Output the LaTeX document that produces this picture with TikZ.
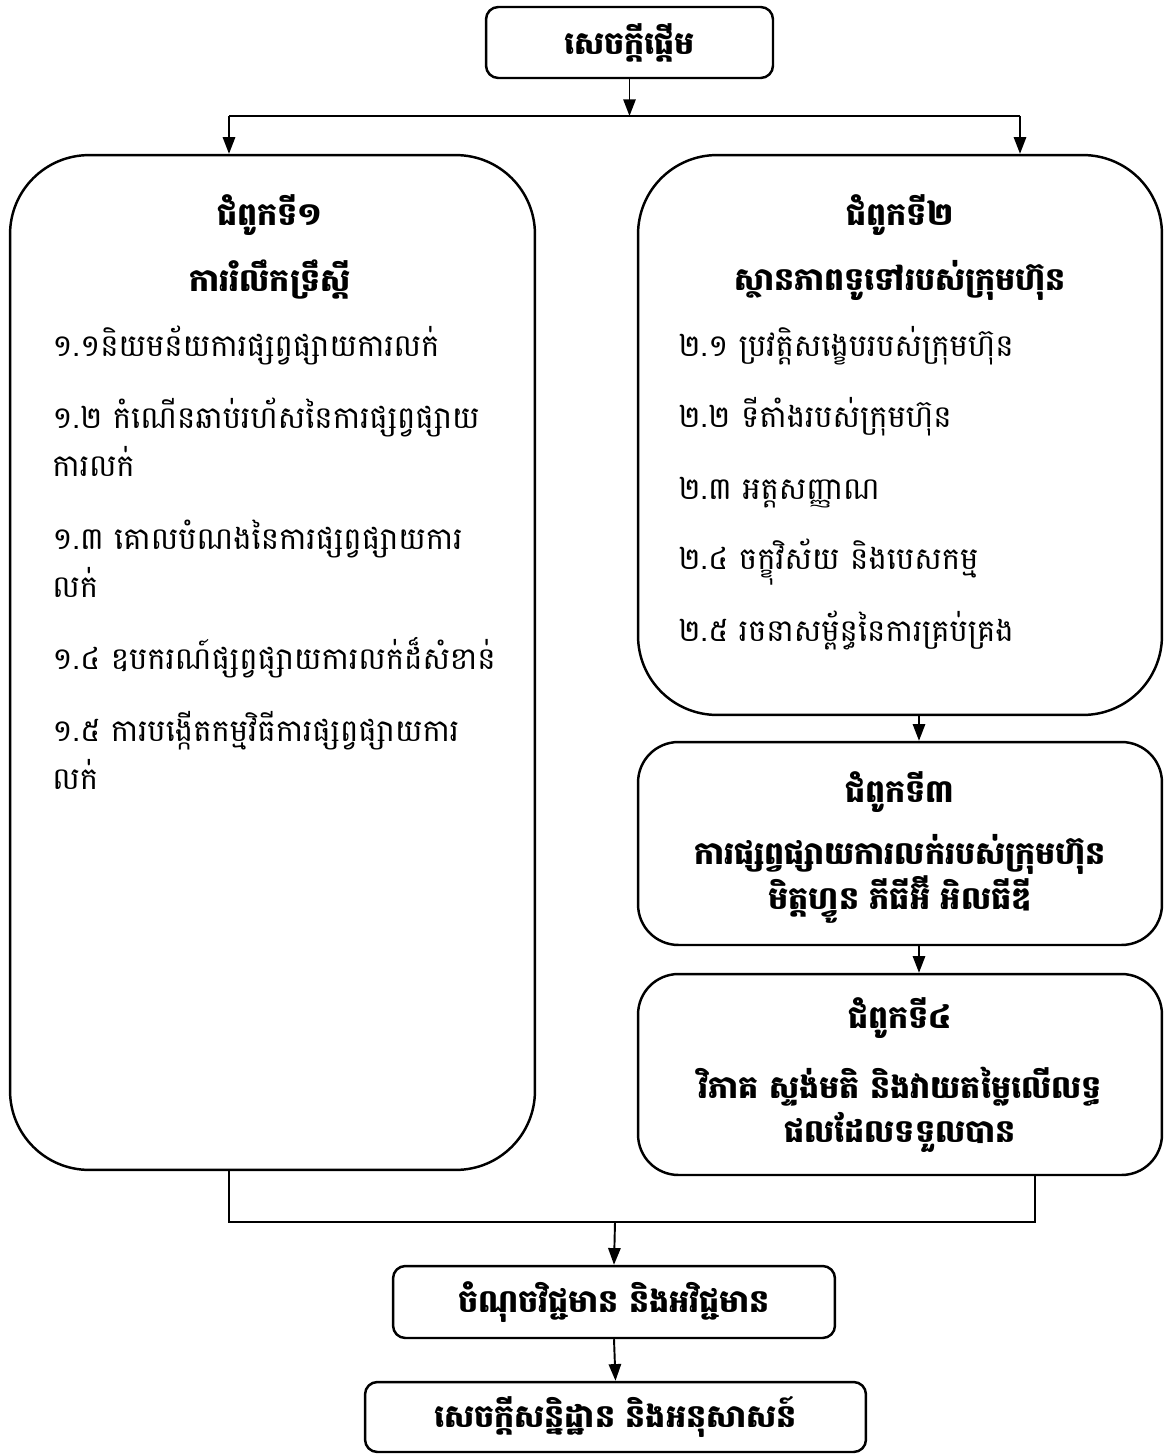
\documentclass[tikz,border=0pt]{standalone}
\usepackage{fontspec}
\newfontfamily\khmer[Script=Khmer]{Battambang}
\usetikzlibrary{arrows.meta}

\begin{document}
\begin{tikzpicture}[x=0.02cm,y=-0.02cm,
  box/.style={draw,line width=1.4pt,rounded corners=7pt,inner sep=0pt},
  bigbox/.style={draw,line width=1.4pt,rounded corners=45pt,inner sep=0pt,minimum width=10.5cm},
  midbox/.style={draw,line width=1.4pt,rounded corners=23pt,inner sep=0pt,minimum width=10.5cm},
  head/.style={font=\khmer\bfseries\fontsize{18}{22}\selectfont,align=center},
  item/.style={font=\khmer\fontsize{17.5}{26.8}\selectfont,align=left,anchor=base west,inner sep=0pt},
  arr/.style={-{Triangle[length=9.5pt,width=7pt]},line width=1.1pt},
  conn/.style={line width=1.1pt}]
  \useasboundingbox (0,0) rectangle (1165,1456);

  % boxes
  \node[box,minimum width=5.74cm,minimum height=1.42cm,font=\khmer\bfseries\fontsize{18}{22}\selectfont] (start) at (629.5,42.5) {សេចក្ដីផ្ដើម};
  \node[bigbox,minimum height=20.3cm] (ch1) at (272.5,662.5) {};
  \node[bigbox,minimum width=10.48cm,minimum height=11.2cm] (ch2) at (900,435) {};
  \node[midbox,minimum width=10.48cm,minimum height=4.06cm] (ch3) at (900,843.5) {};
  \node[midbox,minimum width=10.48cm,minimum height=4.02cm] (ch4) at (900,1074.5) {};
  \node[box,minimum width=8.84cm,minimum height=1.44cm,font=\khmer\bfseries\fontsize{18}{22}\selectfont] (pros) at (614,1302) {ចំណុចវិជ្ជមាន និងអវិជ្ជមាន};
  \node[box,minimum width=10.02cm,minimum height=1.4cm,font=\khmer\bfseries\fontsize{18}{22}\selectfont] (concl) at (615.5,1417) {សេចក្ដីសន្និដ្ឋាន និងអនុសាសន៍};

  % chapter headings
  \node[head] (ch1n) at (270,215) {ជំពូកទី១};
  \node[head] (ch1t) at (270,280) {ការរំលឹកទ្រឹស្ដី};
  \node[head] (ch2n) at (900,215) {ជំពូកទី២};
  \node[head] (ch2t) at (900,280) {ស្ថានភាពទូទៅរបស់ក្រុមហ៊ុន};
  \node[head] (ch3n) at (900,792) {ជំពូកទី៣};
  \node[head] (ch3t) at (900,879) {ការផ្សព្វផ្សាយការលក់របស់ក្រុមហ៊ុន\\មិត្តហ្វូន ភីធីអ៊ី អិលធីឌី};
  \node[head] (ch4n) at (900,1018) {ជំពូកទី៤};
  \node[head] (ch4t) at (900,1110) {វិភាគ ស្ទង់មតិ និងវាយតម្លៃលើលទ្ធ\\[3pt]ផលដែលទទួលបាន};

  % items of chapter 1 (y = baseline of last line)
  \foreach \yy/\txt [count=\i] in {357/{១.១និយមន័យការផ្សព្វផ្សាយការលក់},
      476/{១.២ កំណើនឆាប់រហ័សនៃការផ្សព្វផ្សាយ\\ការលក់},
      597/{១.៣ គោលបំណងនៃការផ្សព្វផ្សាយការ\\លក់},
      669/{១.៤ ឧបករណ៍ផ្សព្វផ្សាយការលក់ដ៏សំខាន់},
      789/{១.៥ ការបង្កើតកម្មវិធីការផ្សព្វផ្សាយការ\\លក់}}
    \node[item] (a\i) at (52,\yy) {\txt};

  % items of chapter 2
  \foreach \yy/\txt [count=\i] in {357/{២.១ ប្រវត្តិសង្ខេបរបស់ក្រុមហ៊ុន},
      427/{២.២ ទីតាំងរបស់ក្រុមហ៊ុន},
      499/{២.៣ អត្តសញ្ញាណ},
      569/{២.៤ ចក្ខុវិស័យ និងបេសកម្ម},
      641/{២.៥ រចនាសម្ព័ន្ធនៃការគ្រប់គ្រង}}
    \node[item] (b\i) at (678,\yy) {\txt};

  % connectors
  \coordinate (splitL) at (229,116);
  \coordinate (splitR) at (1020,116);
  \coordinate (joinL) at (229,1222);
  \coordinate (joinR) at (1035,1222);
  \coordinate (joinM) at (615,1222);
  \draw[arr] (start.south) -- (start.south |- splitL);
  \draw[conn] (splitL) -- (splitR);
  \draw[arr] (splitL) -- (splitL |- ch1.north);
  \draw[arr] (splitR) -- (splitR |- ch2.north);
  \draw[arr] ([xshift=0.38cm]ch2.south) -- ([xshift=0.38cm]ch3.north);
  \draw[arr] ([xshift=0.38cm]ch3.south) -- ([xshift=0.38cm]ch4.north);
  \draw[conn] (ch1.south -| joinL) -- (joinL) -- (joinR) -- (joinR |- ch4.south);
  \draw[arr] (joinM) -- (pros.north);
  \draw[arr] (pros.south) -- (concl.north);
\end{tikzpicture}
\end{document}
